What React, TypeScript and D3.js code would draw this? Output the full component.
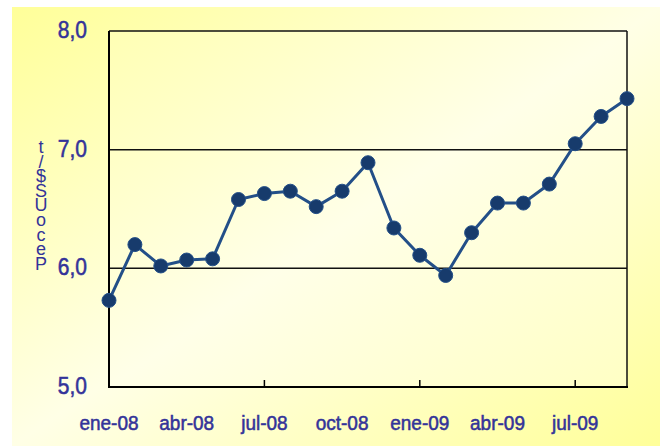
import React from 'react';
import * as d3 from 'd3';

// monthly series, ene-08 .. sep-09
const months = [
  'ene-08', 'feb-08', 'mar-08', 'abr-08', 'may-08', 'jun-08', 'jul-08', 'ago-08', 'sep-08',
  'oct-08', 'nov-08', 'dic-08', 'ene-09', 'feb-09', 'mar-09', 'abr-09', 'may-09', 'jun-09',
  'jul-09', 'ago-09', 'sep-09',
];
const values = [
  5.73, 6.2, 6.02, 6.07, 6.08, 6.58, 6.63, 6.65, 6.52, 6.65, 6.89,
  6.34, 6.11, 5.94, 6.3, 6.55, 6.55, 6.71, 7.05, 7.28, 7.43,
];
const xLabels = ['ene-08', 'abr-08', 'jul-08', 'oct-08', 'ene-09', 'abr-09', 'jul-09'];
const xTickMonths = ['jul-08', 'ene-09', 'jul-09'];
const yTicks = [5, 6, 7, 8];
const yGridTicks = [6, 7];
// axis title as it appears: stacked, upright letters, top to bottom
const yTitleLetters = ['t', '/', '$', 'S', 'U', 'o', 'c', 'e', 'P'];

const W = 660;
const H = 446;
const plot = { left: 109, right: 627, top: 31, bottom: 387 };
const textColor = '#333399';
const font = '"Liberation Sans", Arial, sans-serif';

const App: React.FC = () => {
  const x = d3.scalePoint<string>().domain(months).range([plot.left, plot.right]);
  const y = d3.scaleLinear().domain([5, 8]).range([plot.bottom, plot.top]);

  const line = d3
    .line<number>()
    .x((_, i) => x(months[i])!)
    .y(d => y(d));

  const fmt = (v: number) => v.toFixed(1).replace('.', ',');

  return (
    <div style={{ position: 'absolute', left: 0, top: 0 }}>
      <svg width={W} height={H} style={{ display: 'block' }}>
        <defs>
          <linearGradient id="bgGrad" x1="0" y1="0" x2="1" y2="1">
            <stop offset="0" stopColor="#ffff99" />
            <stop offset="0.5" stopColor="#ffffe6" />
            <stop offset="1" stopColor="#ffff99" />
          </linearGradient>
          <linearGradient id="plotGrad" x1="0" y1="0" x2="1" y2="1">
            <stop offset="0" stopColor="#ffffb4" />
            <stop offset="0.5" stopColor="#ffffe8" />
            <stop offset="1" stopColor="#ffffc4" />
          </linearGradient>
        </defs>
        <rect x={0} y={0} width={W} height={H} fill="#ffffff" />
        <rect x={12} y={7} width={W - 12} height={H - 7} fill="url(#bgGrad)" />
        <rect
          x={plot.left}
          y={plot.top}
          width={plot.right - plot.left}
          height={plot.bottom - plot.top}
          fill="url(#plotGrad)"
        />

        {/* gridlines */}
        {yGridTicks.map(t => (
          <line key={t} x1={plot.left} x2={plot.right} y1={y(t)} y2={y(t)} stroke="#111" strokeWidth={1.5} />
        ))}
        {/* frame: top and right */}
        <line x1={plot.left} x2={plot.right} y1={plot.top} y2={plot.top} stroke="#111" strokeWidth={1.5} />
        <line x1={plot.right} x2={plot.right} y1={plot.top} y2={plot.bottom} stroke="#111" strokeWidth={1.5} />
        {/* axes */}
        <line x1={plot.left} x2={plot.left} y1={plot.top} y2={plot.bottom + 1} stroke="#000" strokeWidth={2} />
        <line x1={plot.left - 1} x2={plot.right + 1} y1={plot.bottom} y2={plot.bottom} stroke="#000" strokeWidth={2} />
        {xTickMonths.map(m => (
          <line key={m} x1={x(m)} x2={x(m)} y1={plot.bottom} y2={plot.bottom - 7} stroke="#000" strokeWidth={1.5} />
        ))}

        {/* y tick labels */}
        {yTicks.map(t => (
          <text
            key={t}
            transform={`translate(87,${y(t) + 7}) scale(1,1.1)`}
            textAnchor="end"
            fontFamily={font}
            fontSize={21}
            fill={textColor}
            stroke={textColor}
            strokeWidth={0.5}
          >
            {fmt(t)}
          </text>
        ))}

        {/* x labels */}
        {xLabels.map(m => (
          <text
            key={m}
            transform={`translate(${x(m)},430) scale(1,1.1)`}
            textAnchor="middle"
            fontFamily={font}
            fontSize={19}
            fill={textColor}
            stroke={textColor}
            strokeWidth={0.5}
          >
            {m}
          </text>
        ))}

        {/* y title */}
        {yTitleLetters.map((c, i) => (
          <text
            key={i}
            x={41}
            y={153 + i * 14.6}
            textAnchor="middle"
            fontFamily={font}
            fontSize={18}
            fill={textColor}
          >
            {c}
          </text>
        ))}

        {/* series */}
        <path d={line(values) || ''} fill="none" stroke="#234f88" strokeWidth={3} strokeLinejoin="round" />
        {values.map((v, i) => (
          <circle key={i} cx={x(months[i])} cy={y(v)} r={7} fill="#173b6c" stroke="#234f88" strokeWidth={1} />
        ))}
      </svg>
    </div>
  );
};

export default App;
